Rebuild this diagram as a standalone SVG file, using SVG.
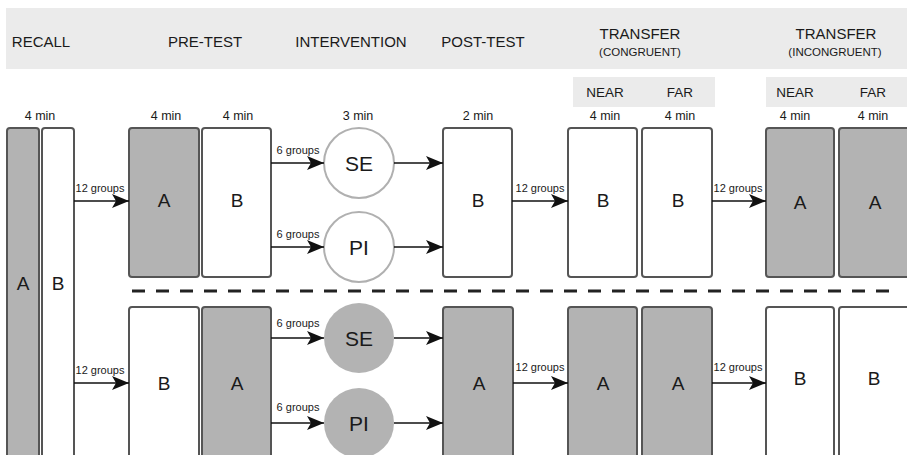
<svg xmlns="http://www.w3.org/2000/svg" width="907" height="455" viewBox="0 0 907 455">
<defs>
<marker id="ah" markerUnits="userSpaceOnUse" markerWidth="18" markerHeight="14" viewBox="0 0 18 14" refX="17" refY="7" orient="auto">
<path d="M0,0 L17,7 L0,14 L4,7 Z" fill="#111"/>
</marker>
</defs>
<style>
text{font-family:"Liberation Sans",Arial,sans-serif;fill:#1a1a1a;text-anchor:middle}
.hd{font-size:15px}
.sub{font-size:11.5px}
.nf{font-size:13.5px}
.min{font-size:12.5px}
.grp{font-size:11px}
.lt{font-size:19px}
.ct{font-size:21px}
.band{fill:#ebebeb}
.g{fill:#b3b3b3;stroke:#555;stroke-width:2}
.w{fill:#fff;stroke:#555;stroke-width:2}
.cw{fill:#fff;stroke:#b0b0b0;stroke-width:2}
.cg{fill:#b3b3b3}
.ar{stroke:#111;stroke-width:1.6;fill:none;marker-end:url(#ah)}
</style>
<g id="header">
<rect class="band" x="6" y="8" width="901" height="61"/>
<rect class="band" x="573" y="77" width="142" height="30"/>
<rect class="band" x="766" y="77" width="141" height="30"/>
<text class="hd" x="41" y="47">RECALL</text>
<text class="hd" x="205" y="47">PRE-TEST</text>
<text class="hd" x="351" y="47">INTERVENTION</text>
<text class="hd" x="483" y="47">POST-TEST</text>
<text class="hd" x="640" y="39">TRANSFER</text>
<text class="sub" x="640" y="56">(CONGRUENT)</text>
<text class="hd" x="836" y="39">TRANSFER</text>
<text class="sub" x="835" y="56">(INCONGRUENT)</text>
<text class="nf" x="605" y="97">NEAR</text>
<text class="nf" x="680" y="97">FAR</text>
<text class="nf" x="795" y="97">NEAR</text>
<text class="nf" x="873" y="97">FAR</text>
<text class="min" x="40" y="120">4 min</text>
<text class="min" x="166" y="120">4 min</text>
<text class="min" x="238" y="120">4 min</text>
<text class="min" x="358" y="120">3 min</text>
<text class="min" x="478" y="120">2 min</text>
<text class="min" x="605" y="120">4 min</text>
<text class="min" x="680" y="120">4 min</text>
<text class="min" x="795" y="120">4 min</text>
<text class="min" x="873" y="120">4 min</text>
</g>
<g id="recall-A"><rect class="g" x="7" y="128" width="32" height="340" rx="3"/><text class="lt" x="23" y="290">A</text></g>
<g id="recall-B"><rect class="w" x="42" y="128" width="32" height="340" rx="3"/><text class="lt" x="58" y="290">B</text></g>
<g id="pre-top-A"><rect class="g" x="129" y="128" width="70" height="149" rx="3"/><text class="lt" x="164" y="207">A</text></g>
<g id="pre-top-B"><rect class="w" x="202" y="128" width="69" height="149" rx="3"/><text class="lt" x="237" y="207">B</text></g>
<g id="pre-bot-B"><rect class="w" x="129" y="307" width="70" height="160" rx="3"/><text class="lt" x="164" y="390">B</text></g>
<g id="pre-bot-A"><rect class="g" x="202" y="307" width="69" height="160" rx="3"/><text class="lt" x="237" y="390">A</text></g>
<g id="se-top"><circle class="cw" cx="359" cy="163" r="35"/><text class="ct" x="359" y="170.5">SE</text></g>
<g id="pi-top"><circle class="cw" cx="359" cy="247" r="35"/><text class="ct" x="359" y="254.5">PI</text></g>
<g id="se-bot"><circle class="cg" cx="359" cy="338" r="35"/><text class="ct" x="359" y="345.5">SE</text></g>
<g id="pi-bot"><circle class="cg" cx="359" cy="423" r="35"/><text class="ct" x="359" y="430.5">PI</text></g>
<g id="post-top-B"><rect class="w" x="443" y="128" width="69" height="149" rx="3"/><text class="lt" x="478" y="207">B</text></g>
<g id="post-bot-A"><rect class="g" x="443" y="307" width="70" height="160" rx="3"/><text class="lt" x="479" y="390">A</text></g>
<g id="tc-near-top"><rect class="w" x="568" y="128" width="69" height="149" rx="3"/><text class="lt" x="603" y="207">B</text></g>
<g id="tc-far-top"><rect class="w" x="642" y="128" width="70" height="149" rx="3"/><text class="lt" x="678" y="207">B</text></g>
<g id="tc-near-bot"><rect class="g" x="568" y="307" width="69" height="160" rx="3"/><text class="lt" x="603" y="390">A</text></g>
<g id="tc-far-bot"><rect class="g" x="642" y="307" width="70" height="160" rx="3"/><text class="lt" x="678" y="390">A</text></g>
<g id="ti-near-top"><rect class="g" x="766" y="128" width="68" height="149" rx="3"/><text class="lt" x="800" y="209">A</text></g>
<g id="ti-far-top"><rect class="g" x="839" y="128" width="72" height="149" rx="3"/><text class="lt" x="875" y="209">A</text></g>
<g id="ti-near-bot"><rect class="w" x="766" y="307" width="68" height="160" rx="3"/><text class="lt" x="800" y="385">B</text></g>
<g id="ti-far-bot"><rect class="w" x="839" y="307" width="72" height="160" rx="3"/><text class="lt" x="874" y="385">B</text></g>
<g id="divider"><line x1="132" y1="291" x2="897" y2="291" stroke="#222" stroke-width="3" stroke-dasharray="13 11"/></g>
<g id="connectors">
<line class="ar" x1="74" y1="201" x2="129" y2="201"/>
<line class="ar" x1="74" y1="383" x2="129" y2="383"/>
<line class="ar" x1="271" y1="163" x2="324" y2="163"/>
<line class="ar" x1="271" y1="247" x2="324" y2="247"/>
<line class="ar" x1="271" y1="338" x2="324" y2="338"/>
<line class="ar" x1="271" y1="423" x2="324" y2="423"/>
<line class="ar" x1="394" y1="163" x2="443" y2="163"/>
<line class="ar" x1="394" y1="247" x2="443" y2="247"/>
<line class="ar" x1="394" y1="338" x2="443" y2="338"/>
<line class="ar" x1="394" y1="423" x2="443" y2="423"/>
<line class="ar" x1="512" y1="201" x2="568" y2="201"/>
<line class="ar" x1="513" y1="383" x2="568" y2="383"/>
<line class="ar" x1="712" y1="201" x2="766" y2="201"/>
<line class="ar" x1="712" y1="383" x2="766" y2="383"/>
<text class="grp" x="100" y="192">12 groups</text>
<text class="grp" x="100" y="374">12 groups</text>
<text class="grp" x="298" y="154">6 groups</text>
<text class="grp" x="298" y="238">6 groups</text>
<text class="grp" x="298" y="327">6 groups</text>
<text class="grp" x="298" y="411">6 groups</text>
<text class="grp" x="540" y="192">12 groups</text>
<text class="grp" x="540" y="371">12 groups</text>
<text class="grp" x="738" y="192">12 groups</text>
<text class="grp" x="738" y="371">12 groups</text>
</g>
</svg>
